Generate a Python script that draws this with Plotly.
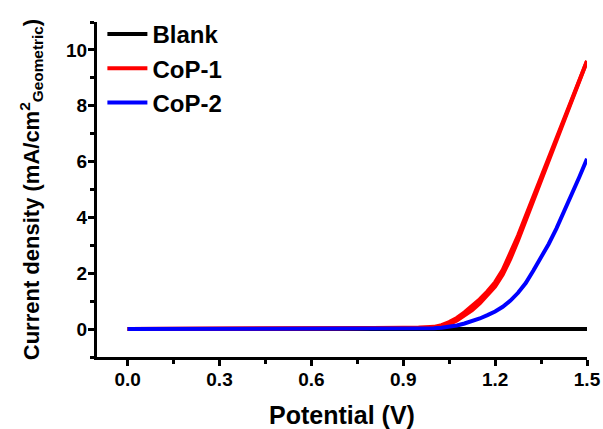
import plotly.graph_objects as go

# Data
blank_x = [0.0, 0.3, 0.6, 0.9, 1.2, 1.5]
blank_y = [0.0, 0.0, 0.0, 0.0, 0.0, 0.0]

cop1_x = [0.0, 0.3, 0.6, 0.7, 0.8, 0.9, 0.95, 1.0, 1.025, 1.05, 1.075, 1.1, 1.125, 1.15, 1.175,
          1.2, 1.225, 1.25, 1.275, 1.3, 1.325, 1.35, 1.375, 1.4, 1.425, 1.45, 1.475, 1.5]
cop1_y = [0.0, 0.0, 0.02, 0.03, 0.04, 0.04, 0.05, 0.08, 0.14, 0.25, 0.4, 0.6, 0.82, 1.07, 1.35,
          1.68, 2.12, 2.7, 3.35, 4.05, 4.75, 5.45, 6.15, 6.85, 7.55, 8.25, 8.95, 9.6]
cop1b_y = [0.0, 0.0, 0.02, 0.03, 0.04, 0.04, 0.05, 0.06, 0.1, 0.18, 0.31, 0.48, 0.68, 0.92, 1.2,
           1.52, 1.95, 2.52, 3.18, 3.9, 4.62, 5.35, 6.07, 6.79, 7.5, 8.2, 8.92, 9.6]

cop2_x = [0.0, 0.3, 0.6, 0.9, 1.0, 1.025, 1.05, 1.075, 1.1, 1.125, 1.15, 1.175, 1.2, 1.225, 1.25,
          1.275, 1.3, 1.325, 1.35, 1.375, 1.4, 1.425, 1.45, 1.475, 1.5]
cop2_y = [0.0, 0.0, 0.0, 0.01, 0.03, 0.05, 0.08, 0.13, 0.2, 0.28, 0.38, 0.5, 0.63, 0.8, 1.02,
          1.3, 1.65, 2.1, 2.55, 3.05, 3.6, 4.2, 4.8, 5.45, 6.1]

x_ticks = [0.0, 0.3, 0.6, 0.9, 1.2, 1.5]
x_ticklabels = ["0.0", "0.3", "0.6", "0.9", "1.2", "1.5"]
y_ticks = [0, 2, 4, 6, 8, 10]

FONT = "Liberation Sans, Arial, sans-serif"
LW = 4

fig = go.Figure()
fig.add_trace(go.Scatter(x=blank_x, y=blank_y, mode="lines", name="Blank",
                         line=dict(color="#000000", width=LW)))
fig.add_trace(go.Scatter(x=cop1_x, y=cop1_y, mode="lines", name="CoP-1",
                         line=dict(color="#FF0000", width=LW)))
fig.add_trace(go.Scatter(x=cop1_x, y=cop1b_y, mode="lines", name="CoP-1 (scan 2)",
                         showlegend=False,
                         line=dict(color="#FF0000", width=LW)))
fig.add_trace(go.Scatter(x=cop2_x, y=cop2_y, mode="lines", name="CoP-2",
                         line=dict(color="#0000FF", width=LW)))

fig.update_layout(
    width=603, height=429,
    margin=dict(l=97, r=16, t=15, b=72),
    paper_bgcolor="white", plot_bgcolor="white",
    font=dict(family=FONT, color="black"),
    showlegend=True,
    legend=dict(x=0.011, y=1.03, xanchor="left", yanchor="top",
                bgcolor="rgba(0,0,0,0)",
                font=dict(family=FONT, size=24, weight="bold", color="black"),
                itemwidth=40, tracegroupgap=0),
    xaxis=dict(
        range=[-0.1, 1.5], tickvals=x_ticks, ticktext=x_ticklabels,
        showline=True, linecolor="black", linewidth=3, mirror=False,
        ticks="outside", ticklen=6, tickwidth=2.5, tickcolor="black",
        minor=dict(ticks="outside", ticklen=4, tickwidth=2.5, tickcolor="black", dtick=0.15, tick0=0.15),
        showgrid=False, zeroline=False, automargin=False,
        ticklabelstandoff=-3,
        tickfont=dict(family=FONT, size=19, weight="bold"),
        title=dict(text="Potential (V)", font=dict(family=FONT, size=25, weight="bold"), standoff=18),
    ),
    yaxis=dict(
        range=[-1, 11], tickvals=y_ticks,
        showline=True, linecolor="black", linewidth=3, mirror=False,
        ticks="outside", ticklen=6, tickwidth=2.5, tickcolor="black",
        minor=dict(ticks="outside", ticklen=4, tickwidth=2.5, tickcolor="black", dtick=1, tick0=1),
        showgrid=False, zeroline=False, automargin=False,
        ticklabelstandoff=-3,
        tickfont=dict(family=FONT, size=19, weight="bold"),
        title=dict(text="Current density (mA/cm<sup>2</sup><sub>Geometric</sub>)",
                   font=dict(family=FONT, size=22, weight="bold"), standoff=21),
    ),
)

fig.write_html("out.html", config={"displayModeBar": False},
               post_script="document.body.style.margin='0';document.body.style.overflow='hidden';")
